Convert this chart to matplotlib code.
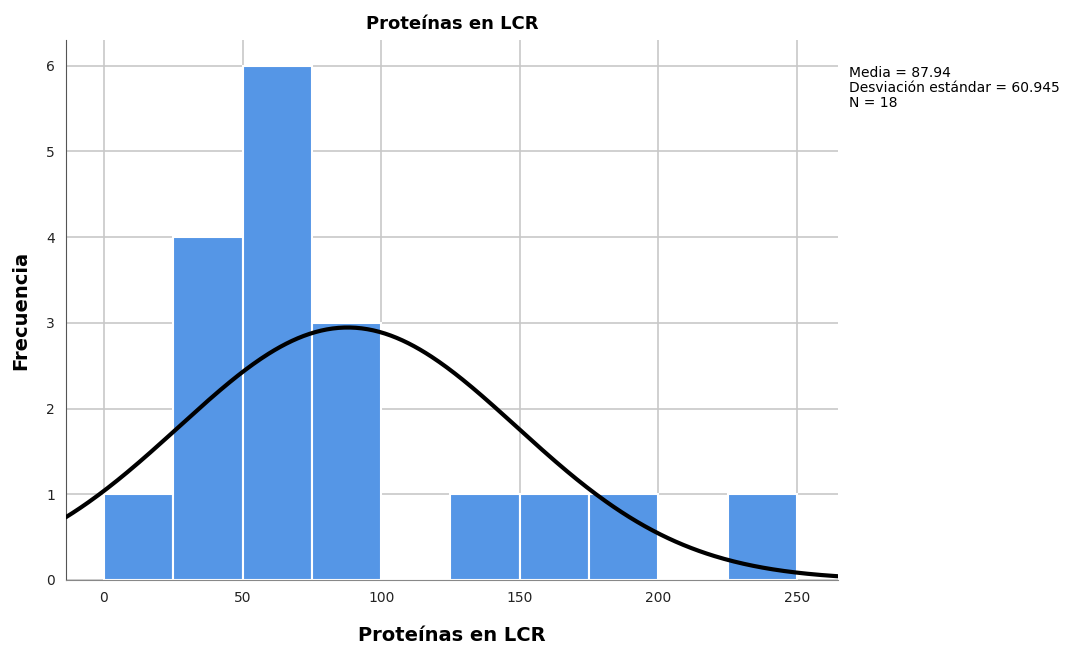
import numpy as np
import matplotlib
matplotlib.use('Agg')
import matplotlib.pyplot as plt

bin_edges = [0, 25, 50, 75, 100, 125, 150, 175, 200, 225, 250]
counts = [1, 4, 6, 3, 0, 1, 1, 1, 0, 1]
media = 87.94
desv = 60.945
n = 18

fig = plt.figure(figsize=(10.68, 6.45), dpi=100)
ax = fig.add_axes([0.0618, 0.1008, 0.7228, 0.8372])

lefts = np.array(bin_edges[:-1])
widths = np.diff(bin_edges)
ax.bar(lefts, counts, width=widths, align='edge', color='#5596e6',
       edgecolor='white', linewidth=1.5, zorder=2)

# curva normal escalada a frecuencias
xs = np.linspace(-14, 265, 400)
bw = 25
ys = n * bw / (desv * np.sqrt(2 * np.pi)) * np.exp(-0.5 * ((xs - media) / desv) ** 2)
ax.plot(xs, ys, color='black', linewidth=3, zorder=3, solid_capstyle='butt')

ax.set_xlim(-13.7, 264.8)
ax.set_ylim(0, 6.3)
ax.set_xticks([0, 50, 100, 150, 200, 250])
ax.set_yticks(range(7))
ax.grid(True, color='#c8c8c8', linewidth=1.2, zorder=0)
ax.set_axisbelow(True)
ax.tick_params(length=0, labelsize=10, pad=8, colors='#222222')
for s in ['top', 'right']:
    ax.spines[s].set_visible(False)
ax.spines['left'].set_color('#555555')
ax.spines['bottom'].set_color('#888888')

ax.set_title('Proteínas en LCR', fontsize=13, fontweight='bold', pad=8)
ax.set_xlabel('Proteínas en LCR', fontsize=14, fontweight='bold', labelpad=15)
ax.set_ylabel('Frecuencia', fontsize=14, fontweight='bold', labelpad=11)

fig.text(0.795, 0.898, 'Media = 87.94\nDesviación estándar = 60.945\nN = 18',
         fontsize=10, va='top', ha='left', linespacing=1.1)

fig.savefig('out.png', dpi=100)
